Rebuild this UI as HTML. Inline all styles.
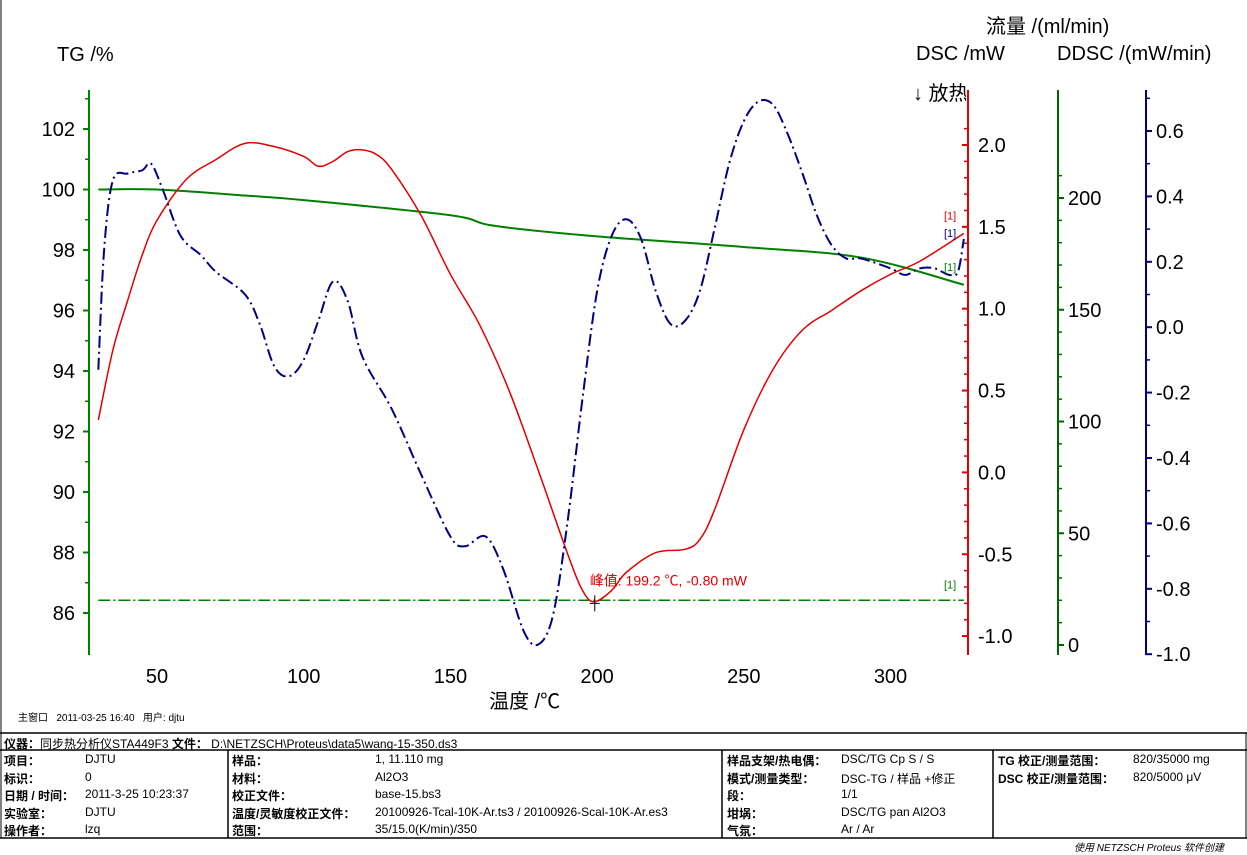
<!DOCTYPE html>
<html><head><meta charset="utf-8"><style>
body{margin:0;background:#fff;width:1247px;height:855px;overflow:hidden;font-family:"Liberation Sans","Noto Sans CJK SC",sans-serif}
svg{position:absolute;left:0;top:0}
.t{position:absolute;font-size:12px;white-space:nowrap;color:#000}
.b{font-weight:bold}
</style></head><body>
<svg id="chart" width="1247" height="855"></svg>
<script>
const tgT=[30,50,80,100,150,165,200,250,290,325];
const tgV=[100,100,99.8,99.65,99.15,98.8,98.45,98.1,97.75,96.85];
const flowT=[30,325];
const flowV=[20,20];
const dscT=[30,35,40,45,50,60,70,80,90,100,105,110,115,120,125,130,140,150,160,170,180,190,195,199,205,210,220,230,235,240,250,260,270,280,290,300,310,325];
const dscV=[0.32,0.75,1.05,1.33,1.54,1.79,1.91,2.01,1.99,1.93,1.87,1.9,1.96,1.97,1.94,1.85,1.57,1.21,0.9,0.5,0.01,-0.5,-0.72,-0.79,-0.72,-0.61,-0.49,-0.47,-0.41,-0.23,0.26,0.63,0.87,0.99,1.11,1.21,1.29,1.46];
const ddT=[30,32,35,40,45,48,52,58,65,70,80,85,90,95,100,105,110,115,120,130,140,150,155,162,168,175,180,185,190,195,200,205,210,215,220,225,230,235,240,245,250,255,260,265,270,275,280,285,290,300,305,310,315,320,323,325];
const ddV=[-0.13,0.24,0.45,0.47,0.48,0.5,0.42,0.28,0.22,0.17,0.1,0.01,-0.12,-0.15,-0.1,0.02,0.14,0.08,-0.09,-0.25,-0.45,-0.64,-0.67,-0.64,-0.74,-0.93,-0.97,-0.88,-0.59,-0.22,0.11,0.28,0.33,0.27,0.11,0.01,0.02,0.11,0.3,0.5,0.63,0.69,0.68,0.59,0.47,0.34,0.25,0.21,0.21,0.18,0.16,0.18,0.18,0.16,0.17,0.27];
const xTicks=[50,100,150,200,250,300];
const tgTicks=[86,88,90,92,94,96,98,100,102];
const dscTicks=[-1.0,-0.5,0.0,0.5,1.0,1.5,2.0];
const flowTicks=[0,50,100,150,200];
const ddTicks=[-1.0,-0.8,-0.6,-0.4,-0.2,0.0,0.2,0.4,0.6];
const peakT=199.2, peakV=-0.80;

const X=t=>157+(t-50)*2.934;
const Ytg=v=>613-(v-86)*30.25;
const Ydsc=v=>145-(v-2)*163.7;
const Yfl=v=>645-v*2.235;
const Ydd=v=>131-(v-0.6)*327;
const svg=document.getElementById('chart');
const NS='http://www.w3.org/2000/svg';
function el(tag,attrs,parent){const e=document.createElementNS(NS,tag);for(const k in attrs)e.setAttribute(k,attrs[k]);(parent||svg).appendChild(e);return e;}
function txt(x,y,s,size,fill,anchor){const e=el('text',{x:x,y:y,'font-size':size,fill:fill||'#000','text-anchor':anchor||'start','font-family':'Liberation Sans, Noto Sans CJK SC, sans-serif'});e.textContent=s;return e;}
function smooth(xs,ys){let p=[];for(let i=0;i<xs.length;i++)p.push([xs[i],ys[i]]);let d='M'+p[0][0]+','+p[0][1];for(let i=0;i<p.length-1;i++){const p0=p[i-1]||p[i],p1=p[i],p2=p[i+1],p3=p[i+2]||p2;const c1=[p1[0]+(p2[0]-p0[0])/6,p1[1]+(p2[1]-p0[1])/6],c2=[p2[0]-(p3[0]-p1[0])/6,p2[1]-(p3[1]-p1[1])/6];d+=' C'+c1+' '+c2+' '+p2;}return d;}

let f=el('line',{x1:1,y1:0,x2:1,y2:733,stroke:'#000'});


function vaxis(x,ticks,Y,color,labelX,anchor,minorStep,name,fmt,dir){
  const g=el('g',{});
  
  el('line',{x1:x,y1:90,x2:x,y2:655,stroke:color,'stroke-width':2},g);
  ticks.forEach(v=>{const y=Y(v);el('line',{x1:x,y1:y,x2:x+dir*6,y2:y,stroke:color,'stroke-width':2},g);
    const t=txt(labelX,y+7,fmt(v),20,'#000',anchor);g.appendChild(t);});
  if(minorStep){for(let v=ticks[0];v<=ticks[ticks.length-1]+minorStep*1.5;v+=minorStep){const y=Y(v);if(y<92||y>655)continue;el('line',{x1:x,y1:y,x2:x+dir*4,y2:y,stroke:color,'stroke-width':1.5},g);}}
  return g;
}
vaxis(89,tgTicks,Ytg,'#008000',75,'end',1,'tg-axis',v=>String(v),-1);
vaxis(968,dscTicks,Ydsc,'#e00000',978,'start',0.1,'dsc-axis',v=>v.toFixed(1),-1);
vaxis(1058,flowTicks,Yfl,'#006400',1068,'start',10,'flow-axis',v=>String(v),1);
vaxis(1146,ddTicks,Ydd,'#000080',1156,'start',0.1,'ddsc-axis',v=>v.toFixed(1),1);

xTicks.forEach(t=>{const e=txt(X(t),683,String(t),20,'#000','middle');});

[[57,61,'TG /%','tg-title'],[986,33,'流量 /(ml/min)','flow-title'],[916,60,'DSC /mW','dsc-title'],[1057,60,'DDSC /(mW/min)','ddsc-title'],[489,708,'温度 /℃','x-axis-title']].forEach(a=>{const e=txt(a[0],a[1],a[2],20);});
el('clipPath',{id:'cp'}).appendChild(el('rect',{x:900,y:70,width:66,height:40}));
let ex=txt(913,100,'↓ 放热',20);ex.setAttribute('clip-path','url(#cp)');


let s;
s=el('path',{d:smooth(tgT.map(X),tgV.map(Ytg)),fill:'none',stroke:'#008000','stroke-width':2});

s=el('line',{x1:X(flowT[0]),y1:Yfl(flowV[0]),x2:X(flowT[1]),y2:Yfl(flowV[1]),stroke:'#008000','stroke-width':1.5,'stroke-dasharray':'12,3,2,3'});

s=el('path',{d:smooth(dscT.map(X),dscV.map(Ydsc)),fill:'none',stroke:'#e00000','stroke-width':1.5});

s=el('path',{d:smooth(ddT.map(X),ddV.map(Ydd)),fill:'none',stroke:'#000080','stroke-width':2,'stroke-dasharray':'12,4,2,4'});


[[Ydsc(dscV[dscV.length-1])-14,'#e00000'],[Ydd(ddV[ddV.length-1])-2,'#000080'],[Ytg(tgV[tgV.length-1])-14,'#008000'],[Yfl(20)-12,'#008000']].forEach(a=>{const e=txt(944,a[0],'[1]',11,a[1]);});

const px=X(peakT),py=Ydsc(peakV);
s=el('path',{d:`M${px-5},${py} H${px+5} M${px},${py-8} V${py+8}`,stroke:'#000','stroke-width':1});

s=txt(px-5,py-18,'峰值: '+peakT.toFixed(1)+' ℃, '+peakV.toFixed(2)+' mW',14,'#e00000');


[[0,733,1247,733],[0,750,1247,750],[0,838,1247,838],[228,750,228,838],[722,750,722,838],[993,750,993,838]].forEach(l=>{const e=el('line',{x1:l[0],y1:l[1],x2:l[2],y2:l[3],stroke:'#000','stroke-width':1.5});});
el('line',{x1:1,y1:733,x2:1,y2:838,stroke:'#000'});
el('line',{x1:1246,y1:733,x2:1246,y2:838,stroke:'#000'});
</script>
<div class="t" style="left:18px;top:709px;font-size:10px">主窗口 &nbsp; 2011-03-25 16:40 &nbsp; 用户: djtu</div>
<div class="t" style="left:4px;top:735px"><b>仪器：</b>同步热分析仪STA449F3 <b>文件：</b> D:\NETZSCH\Proteus\data5\wang-15-350.ds3</div>
<div>
<div class="t b" style="left:4px;top:752px">项目：</div><div class="t" style="left:85px;top:752px">DJTU</div>
<div class="t b" style="left:4px;top:770px">标识：</div><div class="t" style="left:85px;top:770px">0</div>
<div class="t b" style="left:4px;top:787px">日期 / 时间：</div><div class="t" style="left:85px;top:787px">2011-3-25 10:23:37</div>
<div class="t b" style="left:4px;top:805px">实验室：</div><div class="t" style="left:85px;top:805px">DJTU</div>
<div class="t b" style="left:4px;top:822px">操作者：</div><div class="t" style="left:85px;top:822px">lzq</div>
<div class="t b" style="left:232px;top:752px">样品：</div><div class="t" style="left:375px;top:752px">1, 11.110 mg</div>
<div class="t b" style="left:232px;top:770px">材料：</div><div class="t" style="left:375px;top:770px">Al2O3</div>
<div class="t b" style="left:232px;top:787px">校正文件：</div><div class="t" style="left:375px;top:787px">base-15.bs3</div>
<div class="t b" style="left:232px;top:805px">温度/灵敏度校正文件：</div><div class="t" style="left:375px;top:805px">20100926-Tcal-10K-Ar.ts3 / 20100926-Scal-10K-Ar.es3</div>
<div class="t b" style="left:232px;top:822px">范围：</div><div class="t" style="left:375px;top:822px">35/15.0(K/min)/350</div>
<div class="t b" style="left:727px;top:752px">样品支架/热电偶：</div><div class="t" style="left:841px;top:752px">DSC/TG Cp S / S</div>
<div class="t b" style="left:727px;top:770px">模式/测量类型：</div><div class="t" style="left:841px;top:770px">DSC-TG / 样品 +修正</div>
<div class="t b" style="left:727px;top:787px">段：</div><div class="t" style="left:841px;top:787px">1/1</div>
<div class="t b" style="left:727px;top:805px">坩埚：</div><div class="t" style="left:841px;top:805px">DSC/TG pan Al2O3</div>
<div class="t b" style="left:727px;top:822px">气氛：</div><div class="t" style="left:841px;top:822px">Ar / Ar</div>
<div class="t b" style="left:998px;top:752px">TG 校正/测量范围：</div><div class="t" style="left:1133px;top:752px">820/35000 mg</div>
<div class="t b" style="left:998px;top:770px">DSC 校正/测量范围：</div><div class="t" style="left:1133px;top:770px">820/5000 μV</div>
</div>
<div class="t" style="left:1074px;top:839px;font-size:10px;font-style:italic">使用 NETZSCH Proteus 软件创建</div>
</body></html>
